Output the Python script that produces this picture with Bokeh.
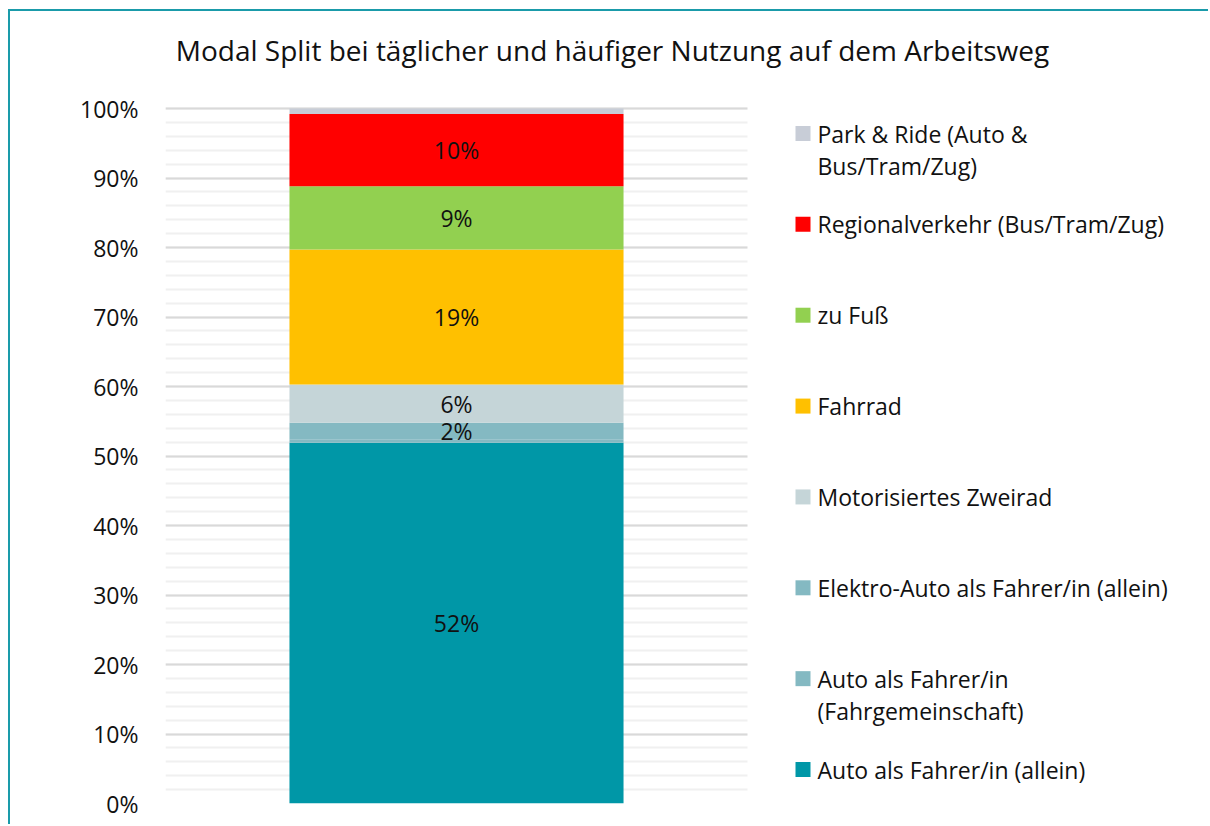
import numpy as np
from bokeh.plotting import figure
from bokeh.models import (Range1d, BoxAnnotation, FixedTicker,
                          NumeralTickFormatter, ColumnDataSource)
from bokeh.embed import file_html
from bokeh.resources import INLINE
from bokeh.core.properties import value

# ---------------- data ----------------
chart_title = "Modal Split bei täglicher und häufiger Nutzung auf dem Arbeitsweg"
bar_x = [0.5]
modes = [
    "Auto als Fahrer/in (allein)",
    "Auto als Fahrer/in (Fahrgemeinschaft)",
    "Elektro-Auto als Fahrer/in (allein)",
    "Motorisiertes Zweirad",
    "Fahrrad",
    "zu Fuß",
    "Regionalverkehr (Bus/Tram/Zug)",
    "Park & Ride (Auto & Bus/Tram/Zug)",
]
shares = [0.519, 0.005, 0.024, 0.055, 0.194, 0.091, 0.104, 0.008]
segment_labels = ["52%", "", "2%", "6%", "19%", "9%", "10%", ""]
colors = ["#0097A7", "#84B9C2", "#84B9C2", "#C5D5D8", "#FFC000", "#92D050", "#FF0000", "#C8CDD7"]
major_ticks = [0.0, 0.1, 0.2, 0.3, 0.4, 0.5, 0.6, 0.7, 0.8, 0.9, 1.0]
minor_ticks = [round(k * 0.02, 2) for k in range(51)]
# legend, top to bottom (wrapped as in the original)
legend_texts = [
    ["Park & Ride (Auto &", "Bus/Tram/Zug)"],
    ["Regionalverkehr (Bus/Tram/Zug)"],
    ["zu Fuß"],
    ["Fahrrad"],
    ["Motorisiertes Zweirad"],
    ["Elektro-Auto als Fahrer/in (allein)"],
    ["Auto als Fahrer/in", "(Fahrgemeinschaft)"],
    ["Auto als Fahrer/in (allein)"],
]
legend_colors = colors[::-1]

FONT = "Open Sans"
TXT = "#111111"

# ---------------- layout (page pixels) ----------------
CANVAS_X0, CANVAS_Y0 = 10, 11          # after css margin + border
W, H = 1200, 815
FRAME_L, FRAME_B = 165, 803            # page px of x=0 / y=0
PX_X, PX_Y = 582.0, 695.0              # px per data unit
x_end = (CANVAS_X0 + W - FRAME_L) / PX_X
y_end = (FRAME_B - CANVAS_Y0) / PX_Y


def dx(px):
    return (px - FRAME_L) / PX_X


def dy(py):
    return (FRAME_B - py) / PX_Y


p = figure(width=W, height=H, output_backend="svg", toolbar_location=None,
           x_range=Range1d(0, x_end), y_range=Range1d(0, y_end),
           min_border_left=FRAME_L - CANVAS_X0, min_border_right=0, min_border_top=0,
           min_border_bottom=CANVAS_Y0 + H - FRAME_B)
p.styles = {"margin-left": "8px", "margin-top": "9px",
            "border-left": "2px solid #1A9BAA", "border-top": "2px solid #1A9BAA"}
p.outline_line_color = None
p.background_fill_color = "white"
p.border_fill_color = "white"

p.xaxis.visible = False
p.xgrid.visible = False

ax = p.yaxis[0]
ax.ticker = FixedTicker(ticks=major_ticks, minor_ticks=minor_ticks)
ax.formatter = NumeralTickFormatter(format="0%")
ax.axis_line_color = None
ax.major_tick_line_color = None
ax.minor_tick_line_color = None
ax.major_label_standoff = 21
ax.major_label_text_font = FONT
ax.major_label_text_font_size = "23px"
ax.major_label_text_color = TXT

p.ygrid.grid_line_color = "#D9D9D9"
p.ygrid.grid_line_width = 2
p.ygrid.minor_grid_line_color = "#F0F0F0"
p.ygrid.minor_grid_line_width = 2

# hide grid lines to the right of the plot area (legend region)
p.add_layout(BoxAnnotation(left=1.0, fill_color="white", fill_alpha=1,
                           line_color=None, level="underlay"))

src = ColumnDataSource(dict(x=bar_x, **{m: [s] for m, s in zip(modes, shares)}))
p.vbar_stack(modes, x="x", width=0.574, source=src, color=colors, line_color=None)

tops = np.cumsum(shares)
mids = tops - np.array(shares) / 2
lab_src = ColumnDataSource(dict(x=bar_x * len(modes), y=mids, t=segment_labels))
p.text(x="x", y="y", text="t", source=lab_src, text_align="center",
       text_baseline="middle", text_font=value(FONT), text_font_size="23px",
       text_color=TXT)

# title
p.text(x=[dx(612)], y=[dy(49)], text=[chart_title], text_align="center",
       text_baseline="middle", text_font=value(FONT), text_font_size="28px",
       text_color=TXT)

# legend
step = 90.86
mk_x, mk_y, txt_x, txt_y, txt = [], [], [], [], []
for i, lines in enumerate(legend_texts):
    yc = 133 + i * step
    mk_x.append(dx(802.5))
    mk_y.append(dy(yc))
    for j, line in enumerate(lines):
        txt_x.append(dx(817))
        txt_y.append(dy(yc + j * 32))
        txt.append(line)
p.scatter(x=mk_x, y=mk_y, marker="square", size=15, fill_color=legend_colors,
          line_color=None)
p.text(x=txt_x, y=txt_y, text=txt, text_align="left", text_baseline="middle",
       text_font=value(FONT), text_font_size="23px", text_color=TXT)

open("out.html", "w").write(file_html(p, INLINE))
